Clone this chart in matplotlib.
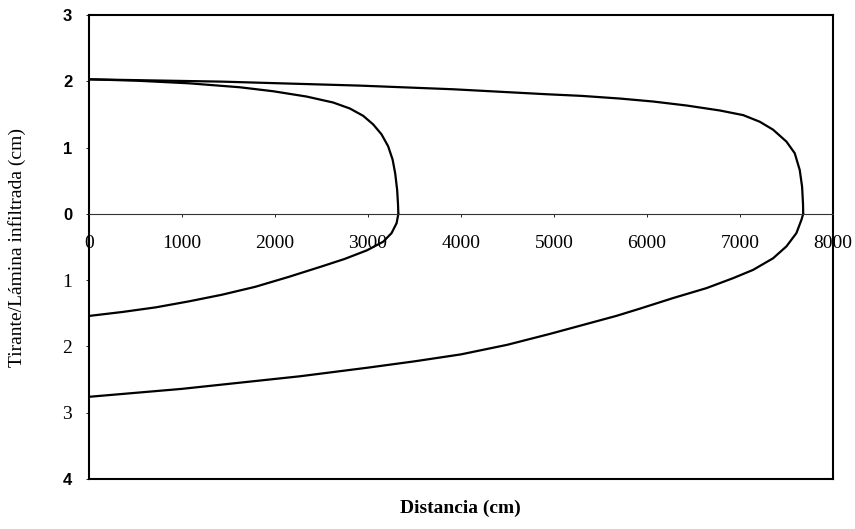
#!/usr/bin/env python3
"""Advance and infiltration profiles along the furrow."""

import matplotlib

matplotlib.use("Agg")
import matplotlib.pyplot as plt

# surface profile (tirante), short advance
short_x = [0, 500, 1075, 1624, 1982, 2341, 2627, 2806, 2949, 3057, 3147,
           3218, 3266, 3294, 3315, 3324, 3328]
short_y = [2.03, 2.01, 1.97, 1.91, 1.85, 1.77, 1.68, 1.59, 1.48, 1.35, 1.20,
           1.02, 0.82, 0.61, 0.36, 0.15, 0.0]
# infiltrated depth, short advance (plotted below zero)
short_inf_x = [0, 360, 720, 1075, 1430, 1790, 2150, 2510, 2750, 2990, 3165,
               3255, 3309, 3328]
short_inf_y = [-1.54, -1.48, -1.41, -1.32, -1.22, -1.10, -0.95, -0.79, -0.68,
               -0.55, -0.42, -0.29, -0.14, 0.0]

# surface profile, long advance
long_x = [0, 1434, 2914, 3917, 4921, 5300, 5710, 6068, 6427, 6785, 7036,
          7215, 7358, 7502, 7591, 7645, 7670, 7680, 7682]
long_y = [2.03, 1.995, 1.935, 1.88, 1.805, 1.78, 1.74, 1.695, 1.635, 1.56,
          1.49, 1.39, 1.27, 1.09, 0.915, 0.66, 0.41, 0.15, 0.0]
# infiltrated depth, long advance
long_inf_x = [0, 1000, 2270, 3000, 3500, 4000, 4500, 4960, 5670, 5925, 6283,
              6642, 6928, 7143, 7358, 7502, 7609, 7663, 7682]
long_inf_y = [-2.76, -2.64, -2.45, -2.32, -2.225, -2.12, -1.975, -1.81, -1.54,
              -1.43, -1.27, -1.12, -0.97, -0.845, -0.67, -0.49, -0.29, -0.09,
              0.0]

x_ticks = [0, 1000, 2000, 3000, 4000, 5000, 6000, 7000, 8000]
y_ticks = [3, 2, 1, 0, -1, -2, -3, -4]
y_tick_labels = ["3", "2", "1", "0", "1", "2", "3", "4"]

SERIF = "Liberation Serif"
SANS = "Liberation Sans"

fig = plt.figure(figsize=(8.55, 5.29), dpi=100)
ax = fig.add_axes([0.104, 0.0945, 0.870, 0.8771])

for xs, ys in [(short_x, short_y), (short_inf_x, short_inf_y),
               (long_x, long_y), (long_inf_x, long_inf_y)]:
    ax.plot(xs, ys, color="black", linewidth=1.6, solid_joinstyle="round",
            solid_capstyle="round")

ax.set_xlim(0, 8000)
ax.set_ylim(-4, 3)

# the zero line carries the x tick labels
ax.spines["bottom"].set_position(("data", 0))
ax.spines["bottom"].set_linewidth(0.8)
ax.spines["bottom"].set_color("#333333")
for side in ["left", "top", "right"]:
    ax.spines[side].set_linewidth(1.5)
ax.plot([0, 1], [0, 0], transform=ax.transAxes, color="black",
        linewidth=1.5, clip_on=False)

ax.set_xticks(x_ticks)
ax.set_xticklabels([str(v) for v in x_ticks], fontfamily=SERIF, fontsize=14)
ax.tick_params(axis="x", direction="out", length=2, width=0.6, pad=13)

ax.set_yticks(y_ticks)
ax.set_yticklabels(y_tick_labels)
ax.tick_params(axis="y", direction="out", length=2, width=0.6, pad=10)
for value, label in zip(y_ticks, ax.get_yticklabels()):
    if value >= 0 or value == -4:
        label.set_fontfamily(SANS)
        label.set_fontweight("bold")
        label.set_fontsize(12)
    else:
        label.set_fontfamily(SERIF)
        label.set_fontsize(14)

ax.set_xlabel("Distancia (cm)", fontfamily=SERIF, fontsize=14,
              fontweight="bold")
ax.xaxis.set_label_coords(0.5, -0.045)
ax.set_ylabel("Tirante/Lámina infiltrada (cm)", fontfamily=SERIF, fontsize=14)
ax.yaxis.set_label_coords(-0.085, 0.5)

fig.savefig("out.png", dpi=100)
